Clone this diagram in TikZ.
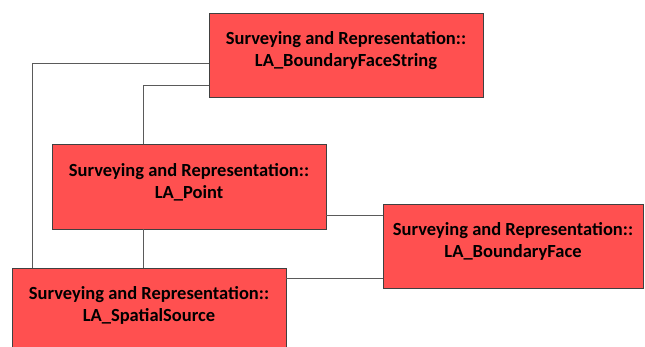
\documentclass[tikz,border=0pt]{standalone}
\usepackage{fontspec}
\setmainfont{Carlito}
\usetikzlibrary{positioning}
\definecolor{pkgred}{RGB}{255,80,80}
\definecolor{pkgedge}{RGB}{64,64,64}
\definecolor{linkgray}{RGB}{90,90,90}

\begin{document}
\begin{tikzpicture}[x=1pt,y=-1pt,
    pkgbox/.style={draw=pkgedge,fill=pkgred,line width=0.9pt,align=center,
      font=\fontsize{18.5}{22}\selectfont\bfseries,inner sep=0pt},
    link/.style={draw=linkgray,line width=0.8pt}]
    \clip (0,0) rectangle (645,347);
    \node[pkgbox,minimum width=274pt,minimum height=84pt] (bfs) at (346,55)
      {Surveying and Representation::\\LA\_BoundaryFaceString\rule[-12pt]{0pt}{12pt}};
    \node[pkgbox,minimum width=274pt,minimum height=85pt] (pt) at (189,186.5)
      {Surveying and Representation::\\LA\_Point\rule[-12pt]{0pt}{12pt}};
    \node[pkgbox,minimum width=260pt,minimum height=84pt] (bf) at (513,246)
      {Surveying and Representation::\\LA\_BoundaryFace\rule[-12pt]{0pt}{12pt}};
    \node[pkgbox,minimum width=274pt,minimum height=84pt] (src) at (149,310)
      {Surveying and Representation::\\LA\_SpatialSource\rule[-12pt]{0pt}{12pt}};
    % links
    \draw[link] ([yshift=-8.5pt]bfs.west) -| ([xshift=-117pt]src.north);
    \draw[link] ([yshift=-30pt]bfs.west) -| ([xshift=-46pt]pt.north);
    \draw[link] ([xshift=-46pt]pt.south) -- ([xshift=-46pt]pt.south |- src.north);
    \draw[link] ([yshift=-28.5pt]pt.east) -- ([yshift=-28.5pt]pt.east -| bf.west);
    \draw[link] ([yshift=-32pt]bf.west) -- ([yshift=-32pt]bf.west -| src.east);
  \end{tikzpicture}
\end{document}
